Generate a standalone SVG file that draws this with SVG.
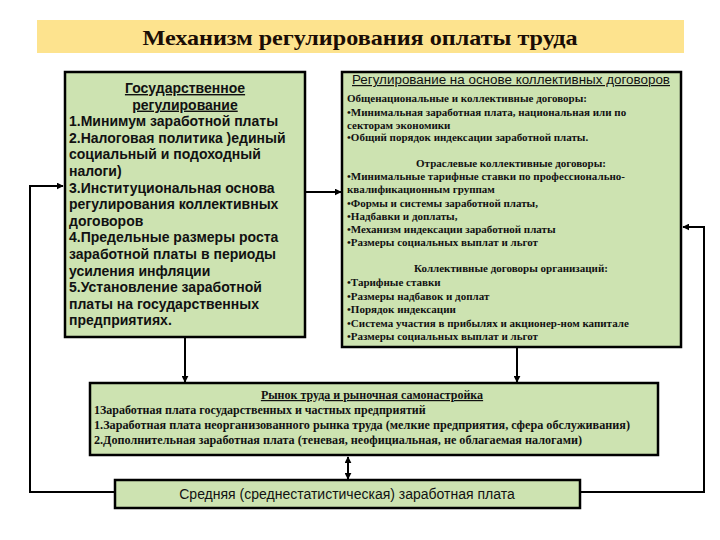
<svg xmlns="http://www.w3.org/2000/svg" width="720" height="540" viewBox="0 0 720 540">
<defs>
<marker id="ah" viewBox="0 0 10 10" refX="9" refY="5" markerWidth="7" markerHeight="7" markerUnits="userSpaceOnUse" orient="auto-start-reverse">
<path d="M0,0 L10,5 L0,10 z" fill="#000"/>
</marker>
<style>
.box{fill:#cde3b1;stroke:#000;stroke-width:2.5}
.ln{fill:none;stroke:#000;stroke-width:2}
.sb{font-family:"Liberation Sans",Arial,sans-serif;font-weight:bold;font-size:14px;fill:#111}
.sn{font-family:"Liberation Sans",Arial,sans-serif;font-size:12px;fill:#111}
.rb{font-family:"Liberation Serif","Times New Roman",serif;font-weight:bold;font-size:11px;fill:#111}
.mb{font-family:"Liberation Serif","Times New Roman",serif;font-weight:bold;font-size:12px;fill:#111}
.u{text-decoration:underline}
</style>
</defs>
<rect width="720" height="540" fill="#fff"/>
<g id="title">
<rect x="37" y="20" width="647" height="33" fill="#fde38e"/>
<text x="360" y="45" text-anchor="middle" font-family="'Liberation Serif','Times New Roman',serif" font-weight="bold" font-size="22" fill="#1a0d05" textLength="435" lengthAdjust="spacingAndGlyphs">Механизм регулирования оплаты труда</text>
</g>
<g id="connectors">
<line class="ln" x1="185" y1="338" x2="185" y2="382" marker-end="url(#ah)"/>
<line class="ln" x1="517" y1="348" x2="517" y2="382" marker-end="url(#ah)"/>
<line class="ln" x1="306" y1="192" x2="341" y2="192" marker-end="url(#ah)"/>
<line class="ln" x1="348" y1="457" x2="348" y2="479" marker-start="url(#ah)" marker-end="url(#ah)"/>
<polyline class="ln" points="115,492 30,492 30,186 63,186" marker-end="url(#ah)"/>
<polyline class="ln" points="580,492 704,492 704,227 683,227" marker-end="url(#ah)"/>
</g>
<g id="state">
<rect class="box" x="65" y="72" width="240" height="265"/>
<text class="sb" text-anchor="middle"><tspan class="u" x="185" y="93">Государственное</tspan><tspan class="u" x="185" y="109.6">регулирование</tspan></text>
<text class="sb"><tspan x="69" y="126.2">1.Минимум заработной платы</tspan><tspan x="69" y="142.8">2.Налоговая политика )единый</tspan><tspan x="69" y="159.4">социальный и подоходный</tspan><tspan x="69" y="176">налоги)</tspan><tspan x="69" y="192.6">3.Институциональная основа</tspan><tspan x="69" y="209.2">регулирования коллективных</tspan><tspan x="69" y="225.8">договоров</tspan><tspan x="69" y="242.4">4.Предельные размеры роста</tspan><tspan x="69" y="259">заработной платы в периоды</tspan><tspan x="69" y="275.6">усиления инфляции</tspan><tspan x="69" y="292.2">5.Установление заработной</tspan><tspan x="69" y="308.8">платы на государственных</tspan><tspan x="69" y="325.4">предприятиях.</tspan></text>
</g>
<g id="collective">
<rect class="box" x="342" y="72" width="339" height="275"/>
<text class="sn u" x="511" y="84" text-anchor="middle" textLength="318" lengthAdjust="spacingAndGlyphs">Регулирование на основе коллективных договоров</text>
<text class="rb"><tspan x="347" y="102">Общенациональные и коллективные договоры:</tspan><tspan x="347" y="116">•Минимальная заработная плата, национальная или по</tspan><tspan x="347" y="129">секторам экономики</tspan><tspan x="347" y="141">•Общий порядок индексации заработной платы.</tspan></text>
<text class="rb" x="511" y="167" text-anchor="middle">Отраслевые коллективные договоры:</text>
<text class="rb"><tspan x="347" y="180">•Минимальные тарифные ставки по профессионально-</tspan><tspan x="347" y="193">квалификационным группам</tspan><tspan x="347" y="207">•Формы и системы заработной платы,</tspan><tspan x="347" y="220">•Надбавки и доплаты,</tspan><tspan x="347" y="233">•Механизм индексации заработной платы</tspan><tspan x="347" y="246">•Размеры социальных выплат и льгот</tspan></text>
<text class="rb" x="511" y="272" text-anchor="middle">Коллективные договоры организаций:</text>
<text class="rb"><tspan x="347" y="286">•Тарифные ставки</tspan><tspan x="347" y="300">•Размеры надбавок и доплат</tspan><tspan x="347" y="313">•Порядок индексации</tspan><tspan x="347" y="327">•Система участия в прибылях и акционер-ном  капитале</tspan><tspan x="347" y="340">•Размеры социальных выплат и льгот</tspan></text>
</g>
<g id="market">
<rect class="box" x="90" y="383" width="568" height="72"/>
<text class="mb u" x="372" y="399" text-anchor="middle">Рынок труда и рыночная самонастройка</text>
<text class="mb" x="94" y="414">1Заработная плата государственных и частных предприятий</text>
<text class="mb" x="94" y="429" textLength="536" lengthAdjust="spacingAndGlyphs">1.Заработная плата неорганизованного рынка труда (мелкие предприятия, сфера обслуживания)</text>
<text class="mb" x="94" y="444" textLength="488" lengthAdjust="spacingAndGlyphs">2.Дополнительная заработная плата (теневая, неофициальная, не облагаемая налогами)</text>
</g>
<g id="average">
<rect class="box" x="115" y="480" width="465" height="28"/>
<text x="347" y="499" text-anchor="middle" font-family="'Liberation Sans',Arial,sans-serif" font-size="14" fill="#111">Средняя (среднестатистическая) заработная плата</text>
</g>
</svg>
